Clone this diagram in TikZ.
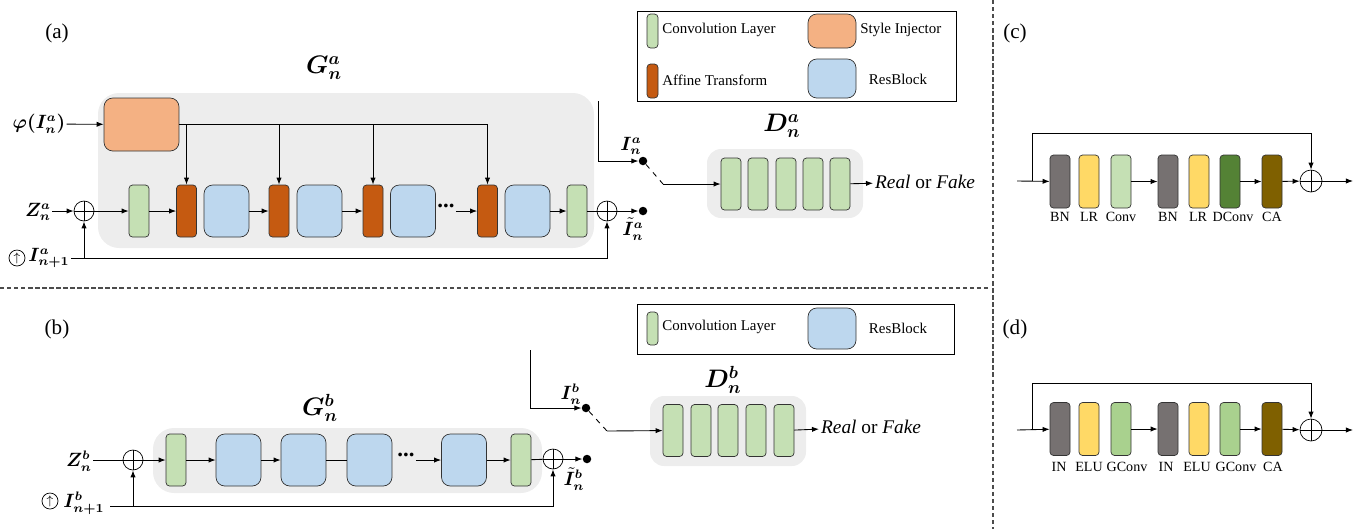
\documentclass[tikz,border=0pt]{standalone}
\usepackage{amsmath,amssymb,bm}
\usepackage{fontspec}
\setmainfont{Liberation Serif}
\usetikzlibrary{arrows.meta,positioning,calc}
\definecolor{convg}{HTML}{C5E0B4}
\definecolor{gconvg}{HTML}{A9D18E}
\definecolor{dconvg}{HTML}{548235}
\definecolor{affo}{HTML}{C55A11}
\definecolor{injo}{HTML}{F4B183}
\definecolor{resb}{HTML}{BDD7EE}
\definecolor{bngray}{HTML}{767171}
\definecolor{lryel}{HTML}{FFD966}
\definecolor{caol}{HTML}{7F6000}
\definecolor{bggray}{HTML}{EDEDED}
\tikzset{
  blk/.style={draw=black!80,rounded corners=2pt,inner sep=0pt,
              minimum width=0.4cm,minimum height=1.04cm},
  conv/.style={blk,fill=convg},
  aff/.style={blk,fill=affo},
  res/.style={blk,rounded corners=5pt,fill=resb,minimum width=0.9cm},
  inj/.style={blk,rounded corners=5pt,fill=injo,minimum width=1.5cm,
              minimum height=1.06cm},
  sum/.style={draw,circle,inner sep=0pt,minimum size=0.4cm,
              path picture={\draw (path picture bounding box.north)--(path picture bounding box.south)
                (path picture bounding box.west)--(path picture bounding box.east);}},
  tap/.style={circle,fill=black,inner sep=0pt,minimum size=0.17cm},
  upc/.style={draw,circle,inner sep=0pt,minimum size=0.32cm,font=\scriptsize},
  dots/.style={inner sep=0.5pt,font=\fontsize{13}{13}\selectfont\bfseries},
  arr/.style={-{Latex[length=4pt,width=3pt]},line width=0.5pt},
  ln/.style={line width=0.5pt},
  bgbox/.style={fill=bggray,rounded corners=12pt},
  sym/.style={font=\fontsize{14}{14}\selectfont},
  lsym/.style={font=\fontsize{10.5}{11}\selectfont,inner sep=0.5pt},
  lbl/.style={font=\fontsize{8}{9}\selectfont,inner sep=0pt},
  leg/.style={font=\fontsize{8.5}{9}\selectfont,anchor=west,inner sep=0pt},
  panel/.style={font=\fontsize{12}{12}\selectfont},
  sep/.style={line width=0.6pt,black!70,dash pattern=on 2.5pt off 1.5pt},
  cblk/.style={blk,minimum height=1.06cm},
}
\begin{document}
\begin{tikzpicture}[x=0.02cm,y=-0.02cm]
\useasboundingbox (0,0) rectangle (1360,529);
% separators
\draw[sep] (0,288) -- (990,288);
\draw[sep] (993,0) -- (993,529);
\node[panel] (pa) at (57,33) {(a)};
\node[panel] (pb) at (57,329) {(b)};
\node[panel] (pc) at (1015,33) {(c)};
\node[panel] (pd) at (1015,329) {(d)};

% ---------- (a) generator
\fill[bgbox] (98,93) rectangle (594,248);
\node[sym] (ga) at (324,68) {$\bm{G_n^a}$};
\node[inj] (inj) at (141.5,124.5) {};
\node[conv] (ca1) at (139,211) {};
\node[aff] (aa1) at (186.5,211) {};
\node[res] (ra1) at (226.5,211) {};
\node[aff] (aa2) at (279,211) {};
\node[res] (ra2) at (319.5,211) {};
\node[aff] (aa3) at (373,211) {};
\node[res] (ra3) at (413,211) {};
\node[dots] (dta) at (446,206) {...};
\node[aff] (aa4) at (487.5,211) {};
\node[res] (ra4) at (527.5,211) {};
\node[conv] (ca2) at (577,211) {};
\node[sum] (sa1) at (84,211) {};
\node[sum] (sa2) at (607,211) {};
\node[tap] (ta2) at (643,211) {};
\node[tap] (ta1) at (643,161) {};
\node[lsym] (phia) at (39,124) {$\bm{\varphi(I_n^a)}$};
\node[lsym] (za) at (38,212) {$\bm{Z_n^a}$};
\node[upc] (upa) at (17,258) {$\uparrow$};
\node[lsym] (ina) at (49,258) {$\bm{I_{n+1}^a}$};
\node[lsym] (lia) at (631,146) {$\bm{I_n^a}$};
\node[lsym] (lta) at (633,229) {$\bm{\tilde{I}_n^a}$};
\coordinate (ia0) at (598,101);
\coordinate (swa) at (663,184);
% style injection
\draw[arr] (phia) -- (inj);
\draw[ln] (inj.east |- 0,124) -- (aa4.north |- 0,124);
\foreach \a in {aa1,aa2,aa3,aa4}
  \draw[arr] (\a.north |- 0,124) -- (\a.north);
% main path
\draw[arr] (za.east |- sa1) -- (sa1);
\draw[arr] (sa1) -- (ca1);
\draw[arr] (ca1) -- (aa1);
\draw[arr] (ra1) -- (aa2);
\draw[arr] (ra2) -- (aa3);
\draw[arr] (dta.east |- aa4) -- (aa4);
\draw[arr] (ra4) -- (ca2);
\draw[ln] (ca2) -- (sa2);
\draw[arr] (sa2) -- (ta2);
\draw[arr] (ina) -| (sa2);
\draw[arr] (sa1 |- ina) -- (sa1);
\draw[arr] (ia0) |- (ta1);
\draw[ln,dashed] (ta1) -- (swa);

% ---------- (a) discriminator
\fill[bgbox,rounded corners=8pt] (707,149) rectangle (863,218);
\node[sym] (da) at (782,126) {$\bm{D_n^a}$};
\foreach \i/\x in {1/731,2/758,3/786,4/813,5/840}
  \node[conv] (dca\i) at (\x,184) {};
\node[anchor=west,inner sep=1pt,font=\fontsize{11}{11}\selectfont] (rfa) at (873,182) {\textit{Real} or \textit{Fake}};
\draw[arr] (swa) -- (dca1);
\draw[arr] (dca5) -- (rfa);

% ---------- (a) legend
\draw[ln] (637,11) rectangle (956,101);
\node[conv,minimum width=0.22cm,minimum height=0.68cm] (lga1) at (652.5,31) {};
\node[aff,minimum width=0.22cm,minimum height=0.68cm] (lga2) at (652.5,81) {};
\node[inj,minimum width=0.96cm,minimum height=0.68cm] (lga3) at (832,31) {};
\node[res,minimum width=0.96cm,minimum height=0.78cm] (lga4) at (832,78.5) {};
\node[leg] at (662,30) {Convolution Layer};
\node[leg] at (662,80) {Affine Transform};
\node[leg] at (860,30) {Style Injector};
\node[leg,anchor=center] at (898,79) {ResBlock};

% ---------- (b) generator
\fill[bgbox] (153,428) rectangle (542,493);
\node[sym] (gb) at (320,408) {$\bm{G_n^b}$};
\node[conv] (cb1) at (176,460) {};
\node[res] (rb1) at (238.5,460) {};
\node[res] (rb2) at (303.5,460) {};
\node[res] (rb3) at (369.5,460) {};
\node[dots] (dtb) at (406,455) {...};
\node[res] (rb4) at (464,460) {};
\node[conv] (cb2) at (521,460) {};
\node[sum] (sb1) at (133,460) {};
\node[sum] (sb2) at (553,459) {};
\node[tap] (tb2) at (587,459) {};
\node[tap] (tb1) at (586,408) {};
\node[lsym] (zb) at (79,461) {$\bm{Z_n^b}$};
\node[upc] (upb) at (50,501) {$\uparrow$};
\node[lsym] (inb) at (84,503) {$\bm{I_{n+1}^b}$};
\node[lsym] (lib) at (571,394) {$\bm{I_n^b}$};
\node[lsym] (ltb) at (574,479) {$\bm{\tilde{I}_n^b}$};
\coordinate (ib0) at (530,350);
\coordinate (swb) at (607,431);
\coordinate (inbe) at (110,506);
\draw[ln] (zb.east |- sb1) -- (sb1);
\draw[arr] (sb1) -- (cb1);
\draw[arr] (cb1) -- (rb1);
\draw[arr] (rb1) -- (rb2);
\draw[ln] (rb2) -- (rb3);
\draw[arr] (dtb.east |- rb4) -- (rb4);
\draw[arr] (rb4) -- (cb2);
\draw[ln] (cb2) -- (sb2);
\draw[arr] (sb2) -- (tb2);
\draw[arr] (inbe) -| (sb2);
\draw[arr] (sb1 |- inbe) -- (sb1);
\draw[arr] (ib0) |- (tb1);
\draw[ln,dashed] (tb1) -- (swb);

% ---------- (b) discriminator
\fill[bgbox,rounded corners=8pt] (650,396) rectangle (806,466);
\node[sym] (db) at (723,380) {$\bm{D_n^b}$};
\foreach \i/\x in {1/673,2/701,3/728,4/756,5/784}
  \node[conv] (dcb\i) at (\x,430.5) {};
\node[anchor=west,inner sep=1pt,font=\fontsize{11}{11}\selectfont] (rfb) at (819,427) {\textit{Real} or \textit{Fake}};
\draw[arr] (swb) -- (dcb1);
\draw[arr] (dcb5) -- (rfb);

% ---------- (b) legend
\draw[ln] (637,304) rectangle (954,354);
\node[conv,minimum width=0.22cm,minimum height=0.66cm] (lgb1) at (652.5,328.5) {};
\node[res,minimum width=0.96cm,minimum height=0.82cm] (lgb2) at (832,328.5) {};
\node[leg] at (662,327) {Convolution Layer};
\node[leg,anchor=center] at (898,328) {ResBlock};

% ---------- (c) resblock
\foreach \i/\x/\c/\t/\lx in {1/1060/bngray/BN/1060,2/1089/lryel/LR/1089,3/1121/convg/Conv/1121,
                          4/1168/bngray/BN/1168,5/1199/lryel/LR/1198,6/1230/dconvg/DConv/1233,7/1272/caol/CA/1272}{
  \node[cblk,fill=\c] (rc\i) at (\x,181.5) {};
  \node[lbl] (lc\i) at (\lx,217) {\t};
}
\node[sum,minimum size=0.44cm] (sc) at (1311,181) {};
\coordinate (cin) at (1017,181);
\coordinate (cbr) at (1032,181);
\coordinate (cout) at (1353,181);
\draw[arr] (cin) -- (rc1);
\draw[arr] (rc3) -- (rc4);
\draw[arr] (rc6) -- (rc7);
\draw[arr] (rc7) -- (sc);
\draw[arr] (sc) -- (cout);
\draw[arr] (cbr) -- ++(0,-48) -| (sc);

% ---------- (d) resblock
\foreach \i/\x/\c/\t/\lx in {1/1060/bngray/IN/1059,2/1089/lryel/ELU/1089,3/1121/gconvg/GConv/1127,
                          4/1168/bngray/IN/1166,5/1199/lryel/ELU/1197,6/1230/gconvg/GConv/1236,7/1272/caol/CA/1273}{
  \node[cblk,fill=\c] (rd\i) at (\x,429) {};
  \node[lbl] (ld\i) at (\lx,467) {\t};
}
\node[sum,minimum size=0.44cm] (sd) at (1311,430) {};
\coordinate (din) at (1017,430);
\coordinate (dbr) at (1032,430);
\coordinate (dout) at (1353,430);
\draw[arr] (din) -- (rd1);
\draw[arr] (rd3) -- (rd4);
\draw[arr] (rd6) -- (rd7);
\draw[arr] (rd7) -- (sd);
\draw[arr] (sd) -- (dout);
\draw[arr] (dbr) -- ++(0,-47) -| (sd);
\end{tikzpicture}
\end{document}
